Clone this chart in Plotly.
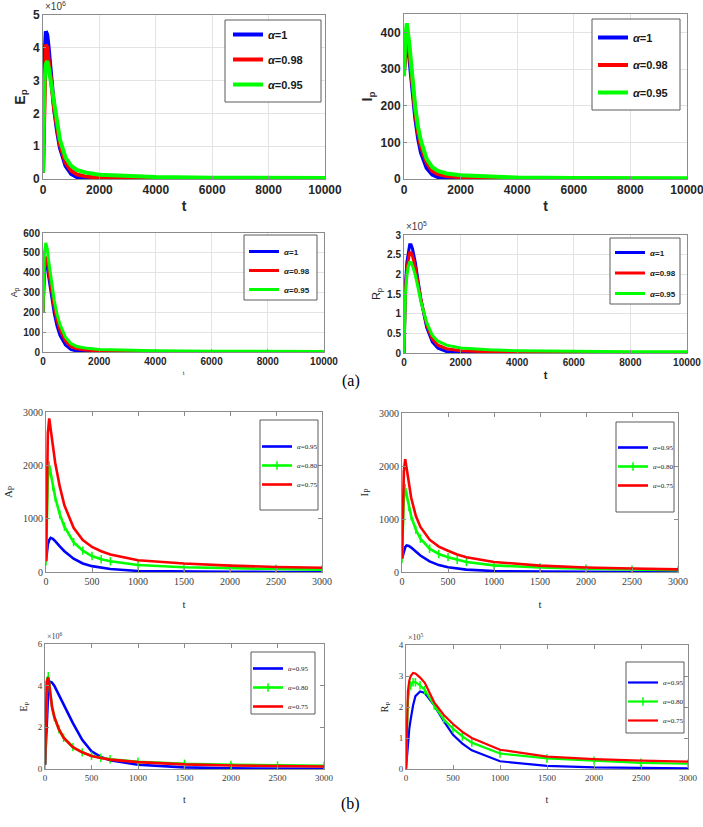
import plotly.graph_objects as go

# ---------------- data ----------------
# (a) panels, t in [0, 10000]
t_a = [0, 25, 50, 100, 150, 200, 250, 300, 400, 500, 600, 800, 1000, 1200, 1500, 2000, 3000, 4000, 6000, 8000, 10000]
labels_a = ["<i>α</i>=1", "<i>α</i>=0.98", "<i>α</i>=0.95"]

# E_p (x 10^6)
Ep_a_1 = [0.2, 1.8, 3.6, 4.5, 4.4, 4.0, 3.5, 3.0, 2.1, 1.45, 0.95, 0.4, 0.15, 0.06, 0.02, 0.005, 0, 0, 0, 0, 0]
Ep_a_098 = [0.2, 1.6, 3.2, 4.1, 4.0, 3.7, 3.3, 2.9, 2.1, 1.5, 1.05, 0.5, 0.25, 0.14, 0.08, 0.04, 0.02, 0.01, 0.005, 0.003, 0.002]
Ep_a_095 = [0.2, 1.9, 2.9, 3.5, 3.6, 3.4, 3.1, 2.8, 2.2, 1.6, 1.2, 0.65, 0.4, 0.28, 0.2, 0.13, 0.08, 0.06, 0.04, 0.03, 0.03]

# I_p
Ip_a_1 = [300, 330, 360, 380, 360, 320, 280, 240, 165, 110, 72, 30, 12, 5, 2, 0.5, 0, 0, 0, 0, 0]
Ip_a_098 = [290, 330, 370, 400, 380, 340, 298, 255, 180, 125, 88, 45, 22, 13, 8, 5, 3, 2, 1, 0.5, 0.3]
Ip_a_095 = [280, 340, 390, 425, 400, 360, 315, 270, 195, 140, 103, 55, 32, 22, 15, 10, 6, 4, 3, 2, 2]

# A_p
Ap_a_1 = [200, 320, 410, 450, 430, 380, 330, 280, 195, 130, 85, 35, 12, 5, 1, 0, 0, 0, 0, 0, 0]
Ap_a_098 = [200, 330, 420, 480, 460, 410, 360, 310, 225, 160, 112, 55, 27, 16, 10, 6, 3, 2, 1, 0.5, 0.4]
Ap_a_095 = [200, 380, 500, 550, 520, 460, 405, 350, 260, 190, 140, 75, 42, 28, 20, 13, 8, 6, 4, 3, 3]

# R_p (x 10^5)
Rp_a_1 = [0, 1.0, 1.7, 2.3, 2.6, 2.75, 2.75, 2.65, 2.3, 1.8, 1.35, 0.65, 0.28, 0.12, 0.04, 0.01, 0, 0, 0, 0, 0]
Rp_a_098 = [0, 0.95, 1.6, 2.15, 2.42, 2.55, 2.55, 2.47, 2.17, 1.75, 1.35, 0.72, 0.36, 0.2, 0.11, 0.06, 0.03, 0.02, 0.01, 0.005, 0.003]
Rp_a_095 = [0, 0.9, 1.5, 1.95, 2.2, 2.3, 2.3, 2.22, 1.98, 1.65, 1.3, 0.78, 0.45, 0.3, 0.2, 0.13, 0.08, 0.06, 0.04, 0.03, 0.03]

# (b) panels, t in [0, 3000]
t_b = [0, 10, 20, 35, 50, 75, 100, 150, 200, 300, 400, 500, 600, 700, 1000, 1500, 2000, 2500, 3000]
labels_b = ["<i>α</i>=0.95", "<i>α</i>=0.80", "<i>α</i>=0.75"]

Ap_b_095 = [200, 400, 520, 600, 640, 620, 580, 480, 390, 250, 160, 110, 78, 55, 20, 5, 2, 1, 0]
Ap_b_080 = [200, 1000, 1750, 2000, 1850, 1600, 1400, 1080, 850, 560, 400, 300, 240, 200, 130, 90, 70, 55, 45]
Ap_b_075 = [200, 1500, 2600, 2880, 2700, 2350, 2050, 1600, 1250, 830, 600, 470, 390, 330, 220, 160, 120, 95, 80]

Ip_b_095 = [250, 330, 400, 470, 500, 490, 460, 380, 310, 200, 130, 90, 63, 45, 18, 5, 2, 1, 0]
Ip_b_080 = [250, 900, 1400, 1580, 1450, 1230, 1050, 800, 630, 440, 340, 280, 230, 190, 125, 85, 63, 45, 35]
Ip_b_075 = [250, 1200, 1900, 2130, 1950, 1650, 1400, 1060, 850, 610, 480, 400, 330, 280, 190, 120, 85, 65, 50]

# E_p (x 10^6)
Ep_b_095 = [0.2, 1.5, 2.8, 3.8, 4.2, 4.15, 4.0, 3.55, 3.1, 2.2, 1.4, 0.85, 0.58, 0.42, 0.2, 0.08, 0.03, 0.015, 0.01]
Ep_b_080 = [0.2, 2.5, 4.2, 4.45, 3.8, 3.0, 2.5, 1.9, 1.5, 1.05, 0.8, 0.63, 0.54, 0.47, 0.35, 0.25, 0.2, 0.17, 0.15]
Ep_b_075 = [0.2, 2.5, 4.2, 4.4, 3.8, 3.0, 2.5, 1.9, 1.5, 1.05, 0.8, 0.62, 0.53, 0.45, 0.33, 0.22, 0.17, 0.14, 0.12]

# R_p (x 10^5)
Rp_b_095 = [0, 0.4, 0.8, 1.3, 1.6, 2.05, 2.35, 2.5, 2.45, 2.05, 1.55, 1.1, 0.82, 0.6, 0.25, 0.1, 0.05, 0.03, 0.02]
Rp_b_080 = [0, 1.5, 2.2, 2.55, 2.7, 2.8, 2.8, 2.7, 2.55, 2.05, 1.6, 1.3, 1.05, 0.85, 0.5, 0.34, 0.27, 0.2, 0.17]
Rp_b_075 = [0, 1.8, 2.5, 2.85, 3.0, 3.1, 3.08, 2.95, 2.78, 2.15, 1.75, 1.45, 1.2, 1.0, 0.62, 0.4, 0.32, 0.27, 0.24]

# ---------------- layout helpers ----------------
W, H = 703, 827
BLUE, RED, GREEN = "#0000ff", "#ff0000", "#00ff00"
SANS = "Liberation Sans, Arial, sans-serif"
SERIF = "Liberation Serif, Times New Roman, serif"


def xdom(x0, x1):
    return [x0 / W, x1 / W]


def ydom(y0, y1):
    return [1 - y1 / H, 1 - y0 / H]


panels = [
    # (a)
    dict(box=(43, 325, 15, 179), xr=[0, 10000], dx=2000, yr=[0, 5], dy=1, style="a",
         tf=12, ytitle="<b>E<sub>p</sub></b>", ytf=14, xtitle="<b>t</b>", xtf=14,
         series=[(t_a, Ep_a_1, BLUE), (t_a, Ep_a_098, RED), (t_a, Ep_a_095, GREEN)], labels=labels_a,
         lw=4, exp="×10<sup>6</sup>", leg=(225, 321, 20, 102), legy=33, gap=6, lfs=11, sx=233),
    dict(box=(404, 687, 14, 179), xr=[0, 10000], dx=2000, yr=[0, 450], dy=100, style="a",
         tf=12, ytitle="<b>I<sub>p</sub></b>", ytf=14, xtitle="<b>t</b>", xtf=14,
         series=[(t_a, Ip_a_1, BLUE), (t_a, Ip_a_098, RED), (t_a, Ip_a_095, GREEN)], labels=labels_a,
         lw=4, exp=None, leg=(592, 680, 19, 110), legy=36, gap=8.5, lfs=11, sx=598),
    dict(box=(43, 324, 233, 352), xr=[0, 10000], dx=2000, yr=[0, 600], dy=100, style="a",
         tf=10, ytitle="A<sub>p</sub>", ytf=9, xtitle="t", xtf=6,
         series=[(t_a, Ap_a_1, BLUE), (t_a, Ap_a_098, RED), (t_a, Ap_a_095, GREEN)], labels=labels_a,
         lw=3, exp=None, leg=(244, 317, 235, 300), legy=250, gap=0, lfs=8, sx=249),
    dict(box=(404, 687, 235, 353), xr=[0, 10000], dx=2000, yr=[0, 3], dy=0.5, style="a",
         tf=10, ytitle="R<sub>p</sub>", ytf=11, xtitle="<b>t</b>", xtf=11,
         series=[(t_a, Rp_a_1, BLUE), (t_a, Rp_a_098, RED), (t_a, Rp_a_095, GREEN)], labels=labels_a,
         lw=3, exp="×10<sup>5</sup>", leg=(610, 680, 238, 304), legy=251, gap=1.5, lfs=8, sx=615),
    # (b)
    dict(box=(46, 322, 412, 572), xr=[0, 3000], dx=500, yr=[0, 3000], dy=1000, style="b",
         tf=10, ytitle="A<sub>P</sub>", ytf=11, xtitle="t", xtf=11,
         series=[(t_b, Ap_b_095, BLUE), (t_b, Ap_b_080, GREEN), (t_b, Ap_b_075, RED)], labels=labels_b,
         lw=2.6, exp=None, leg=(260, 318, 420, 510), legy=445, gap=0, lfs=7, sx=262),
    dict(box=(402, 678, 413, 572), xr=[0, 3000], dx=500, yr=[0, 3000], dy=1000, style="b",
         tf=10, ytitle="I<sub>P</sub>", ytf=11, xtitle="t", xtf=11,
         series=[(t_b, Ip_b_095, BLUE), (t_b, Ip_b_080, GREEN), (t_b, Ip_b_075, RED)], labels=labels_b,
         lw=2.6, exp=None, leg=(616, 674, 422, 512), legy=446, gap=0, lfs=7, sx=618),
    dict(box=(45, 324, 644, 769), xr=[0, 3000], dx=500, yr=[0, 6], dy=2, style="b",
         tf=9, ytitle="E<sub>P</sub>", ytf=10, xtitle="t", xtf=10,
         series=[(t_b, Ep_b_095, BLUE), (t_b, Ep_b_080, GREEN), (t_b, Ep_b_075, RED)], labels=labels_b,
         lw=2.6, exp="×10<sup>6</sup>", leg=(251, 315, 652, 714), legy=667, gap=0, lfs=7, sx=253),
    dict(box=(406, 688, 645, 769), xr=[0, 3000], dx=500, yr=[0, 4], dy=1, style="b",
         tf=9, ytitle="R<sub>P</sub>", ytf=10, xtitle="t", xtf=10,
         series=[(t_b, Rp_b_095, BLUE), (t_b, Rp_b_080, GREEN), (t_b, Rp_b_075, RED)], labels=labels_b,
         lw=2.2, exp="×10<sup>5</sup>", leg=(626, 684, 662, 733), legy=681, gap=0, lfs=7, sx=628),
]

fig = go.Figure()
layout = dict(template="none", width=W, height=H, margin=dict(l=0, r=0, t=0, b=0, pad=0, autoexpand=False),
              paper_bgcolor="white", plot_bgcolor="white", showlegend=True)
shapes = []
annotations = []

for k, p in enumerate(panels, start=1):
    sfx = "" if k == 1 else str(k)
    lname = "legend" if k == 1 else f"legend{k}"
    x0, x1, y0, y1 = p["box"]
    a = p["style"] == "a"
    font_fam = SANS if a else SERIF
    tick_col = "#262626" if a else "#404040"

    for i, ((tx, vals, col), lab) in enumerate(zip(p["series"], p["labels"])):
        with_marks = (not a) and col == GREEN
        tr = go.Scatter(
            x=tx, y=vals, name=lab, mode="lines+markers" if with_marks else "lines",
            line=dict(color=col, width=p["lw"]),
            xaxis=f"x{sfx}", yaxis=f"y{sfx}", legend=lname, legendgroup=f"g{k}_{i}",
        )
        if with_marks:
            tr.marker = dict(symbol="line-ns", size=6, color=col, line=dict(color=col, width=1.5))
        fig.add_trace(tr)

    common = dict(showline=True, linecolor="#8c8c8c", linewidth=1, automargin=False,
                  mirror=True if a else "ticks", ticks="inside", ticklen=3 if a else 4,
                  tickcolor="#8c8c8c", zeroline=False, fixedrange=True,
                  ticklabeloverflow="allow",
                  tickfont=dict(family=font_fam, size=p["tf"], color=tick_col,
                                weight="bold" if a else "normal"))
    xa = dict(common, domain=xdom(x0, x1), range=p["xr"], dtick=p["dx"], tick0=0,
              tickformat="d", anchor=f"y{sfx}",
              showgrid=a, gridcolor="#e3e3e3",
              title=dict(text=p["xtitle"], font=dict(family=font_fam, size=p["xtf"], color="#262626"),
                         standoff=4 if a else 14))
    ya = dict(common, domain=ydom(y0, y1), range=p["yr"], dtick=p["dy"], tick0=0,
              anchor=f"x{sfx}",
              showgrid=a, gridcolor="#e3e3e3",
              title=dict(text=p["ytitle"], font=dict(family=font_fam, size=p["ytf"], color="#262626"),
                         standoff=4 if a else 8))
    layout[f"xaxis{sfx}"] = xa
    layout[f"yaxis{sfx}"] = ya

    # legend frame
    lx0, lx1, ly0, ly1 = p["leg"]
    shapes.append(dict(type="rect", xref="paper", yref="paper",
                       x0=lx0 / W, x1=lx1 / W, y0=1 - ly1 / H, y1=1 - ly0 / H,
                       line=dict(color="#5a5a5a", width=1), fillcolor="white", layer="above"))
    layout[lname] = dict(
        x=(p["sx"] - 5) / W, y=1 - (p["legy"] - 13) / H, xanchor="left", yanchor="top",
        bgcolor="rgba(0,0,0,0)", borderwidth=0,
        tracegroupgap=p["gap"], itemwidth=30,
        font=dict(family=font_fam, size=p["lfs"], color="#1a1a1a", weight="bold" if a else "normal"),
    )

    if p["exp"]:
        annotations.append(dict(text=p["exp"], xref="paper", yref="paper",
                                x=x0 / W, y=1 - (y0 - 1) / H, xanchor="left", yanchor="bottom",
                                showarrow=False,
                                font=dict(family=font_fam, size=10 if a else 8, color="#404040")))

annotations.append(dict(text="(a)", xref="paper", yref="paper", x=351 / W, y=1 - 381 / H,
                        showarrow=False, font=dict(family=SERIF, size=16, color="black")))
annotations.append(dict(text="(b)", xref="paper", yref="paper", x=350 / W, y=1 - 815 / H,
                        showarrow=False, font=dict(family=SERIF, size=16, color="black")))

layout["shapes"] = shapes
layout["annotations"] = annotations
fig.update_layout(**layout)
fig.write_html("out.html", config={"displayModeBar": False, "staticPlot": True},
               post_script="document.body.style.margin='0px';")
